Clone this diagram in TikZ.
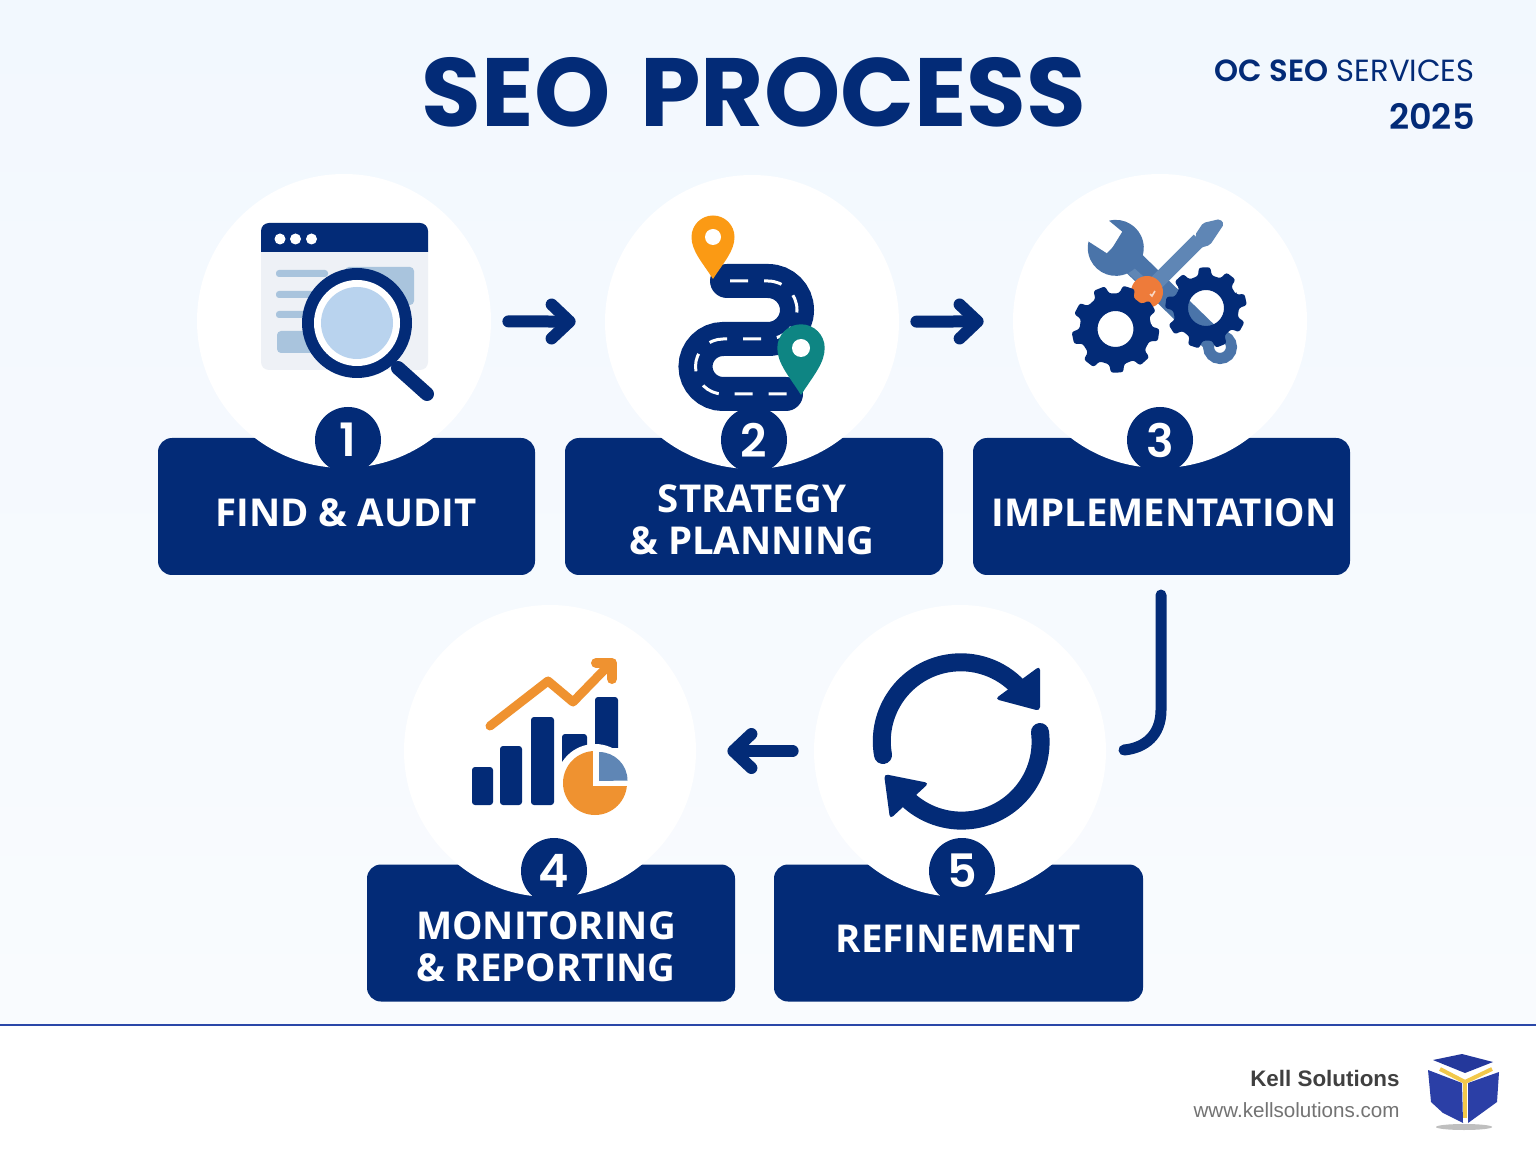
\documentclass[tikz,border=0pt]{standalone}
\usepackage{fontspec}
\usetikzlibrary{arrows.meta,calc}
\setmainfont{Open Sans}
\newfontfamily\popfont{Poppins}[BoldFont={Poppins SemiBold}]
\newfontfamily\popheavy{Poppins}
\newfontfamily\notefont{Liberation Sans}
\definecolor{navy}{HTML}{032B77}
\definecolor{bgtop}{HTML}{F2F8FE}
\definecolor{bgbot}{HTML}{F9FBFE}
\definecolor{pagegrey}{HTML}{EEF1F6}
\definecolor{paleblue}{HTML}{A9C4DD}
\definecolor{lensblue}{HTML}{B9D3EE}
\definecolor{pinorange}{HTML}{FB9A14}
\definecolor{pinteal}{HTML}{0E8583}
\definecolor{steel}{HTML}{4A74A9}
\definecolor{steellight}{HTML}{5F86B5}
\definecolor{hub}{HTML}{EE7B3A}
\definecolor{chartorange}{HTML}{EF9230}
\definecolor{rule}{HTML}{2A47A8}
\definecolor{logoblue}{HTML}{2B3FA6}
\definecolor{logotop}{HTML}{24389B}
\definecolor{logoyellow}{HTML}{F2C84B}
\tikzset{
  x=0.5pt,y=-0.5pt,
  whitedisc/.style={circle,fill=white,inner sep=0pt,minimum size=147pt},
  whitedisclow/.style={circle,fill=white,inner sep=0pt,minimum size=146pt},
  labelbox/.style={rectangle,fill=navy,rounded corners=7pt,inner sep=0pt,minimum height=68.5pt},
  labeltext/.style={text=white,font=\fontsize{19.2}{21}\selectfont\bfseries,align=center,inner sep=0pt},
  badge/.style={circle,fill=navy,text=white,inner sep=0pt,minimum size=33pt,font=\popfont\fontsize{23}{23}\selectfont\bfseries},
  flow/.style={draw=navy,line width=6pt,line cap=round,-{Straight Barb[length=9pt,width=17pt,round,line width=6pt]}},
}
\newcommand{\mappin}[6]{% cx, cy, r, tipy, hole, colour
  \fill[#6] (#1,#4) .. controls ({#1-0.5*#3},{#4-0.4*(#4-#2)}) and ({#1-#3},{#2+0.65*#3}) .. ({#1-#3},#2)
    arc[start angle=180,end angle=360,radius=#3]
    .. controls ({#1+#3},{#2+0.65*#3}) and ({#1+0.5*#3},{#4-0.4*(#4-#2)}) .. (#1,#4) -- cycle;
  \fill[white] (#1,#2) circle[radius=#5];
}
\newcommand{\gearicon}[4]{% cx, cy, rotation, tip radius
  \begin{scope}[shift={(#1,#2)}]
    \pgfmathsetmacro{\gearroot}{#4-8}
    \fill[navy,even odd rule,rounded corners=1.2pt] (#3-12:\gearroot)
      \foreach \i [evaluate=\i as \a using {\i*40+#3}] in {0,...,8}{
        -- (\a-12:\gearroot) -- (\a-8:#4) -- (\a+8:#4) -- (\a+12:\gearroot)
      } -- cycle
      (0,0) circle[radius=18];
  \end{scope}
}
\begin{document}
\begin{tikzpicture}
\useasboundingbox (0,0) rectangle (1536,1154);
% background
\shade[top color=bgtop,bottom color=bgbot] (0,0) rectangle (1536,1026);
\fill[white] (0,1026) rectangle (1536,1154);
\draw[rule,line width=1.3pt] (0,1025) -- (1536,1025);

% header
\node[text=navy,inner sep=0pt,font=\popheavy\fontsize{48.5}{51}\selectfont\bfseries] (title) at (754,92) {SEO\hspace{15pt}PROCESS};
\node[anchor=east,text=navy,inner sep=0pt,font=\popfont\fontsize{15.3}{16}\selectfont] (brand) at (1475,71) {\textbf{OC SEO} SERVICES};
\node[anchor=east,text=navy,inner sep=0pt,font=\popfont\fontsize{17.5}{18}\selectfont\bfseries] (year) at (1475,116) {2025};

% label boxes
\node[labelbox,minimum width=188.5pt] (box1) at (346.5,506.5) {};
\node[labelbox,minimum width=189pt] (box2) at (754,506.5) {};
\node[labelbox,minimum width=188.5pt] (box3) at (1161.5,506.5) {};
\node[labelbox,minimum width=184pt] (box4) at (551,933) {};
\node[labelbox,minimum width=184.5pt] (box5) at (958.5,933) {};

% discs
\node[whitedisc] (disc1) at (344,321) {};
\node[whitedisc] (disc2) at (752,322) {};
\node[whitedisc] (disc3) at (1160,321) {};
\node[whitedisclow] (disc4) at (550,751) {};
\node[whitedisclow] (disc5) at (960,751) {};

% badges
\node[badge] (num1) at (348,440) {1};
\node[badge] (num2) at (754,440) {2};
\node[badge] (num3) at (1160,440) {3};
\node[badge] (num4) at (554,871) {4};
\node[badge] (num5) at (962,871) {5};

% label texts
\node[labeltext] (text1) at (346,513) {FIND \& AUDIT};
\node[labeltext] (text2) at (752,520) {STRATEGY\\\& PLANNING};
\node[labeltext] (text3) at (1164,513) {IMPLEMENTATION};
\node[labeltext] (text4) at (546,947) {MONITORING\\\& REPORTING};
\node[labeltext] (text5) at (958,939) {REFINEMENT};

% flow connectors
\draw[flow,shorten <=8.5pt,shorten >=14.5pt] (disc1) -- (disc2);
\draw[flow,shorten <=8.5pt,shorten >=14.5pt] (disc2) -- (disc3);
\draw[flow,shorten <=10.5pt,shorten >=15.5pt] (disc5) -- (disc4);
\coordinate (bendstart) at (1161,595);
\coordinate (bendend) at (1124,750);
\draw[navy,line width=5.5pt,line cap=round] (bendstart) -- (1161,710) .. controls (1161,735) and (1145,748) .. (bendend);

% icon 1: browser and magnifier
\fill[pagegrey,rounded corners=4pt] (261,240) rectangle (428,370);
\fill[navy] (261,252) {[rounded corners=4pt] -- (261,223) -- (428,223)} -- (428,252) -- cycle;
\fill[white] (280,239) circle[radius=5.5] (295.5,239) circle[radius=5.5] (311.5,239) circle[radius=5.5];
\fill[paleblue,rounded corners=1.5pt] (276,270) rectangle (328,277);
\fill[paleblue,rounded corners=1.5pt] (276,291) rectangle (320,298);
\fill[paleblue,rounded corners=1.5pt] (276,311) rectangle (320,318);
\fill[paleblue,rounded corners=2pt] (277,331) rectangle (325,353);
\fill[paleblue,rounded corners=2pt] (345,267) rectangle (414,305);
\draw[navy,line width=7pt,line cap=round] (398,368) -- (427,394);
\fill[navy] (357,323) circle[radius=55];
\fill[white] (357,323) circle[radius=43];
\fill[lensblue] (357,323) circle[radius=36];

% icon 2: road and pins
\draw[navy,line width=17pt,line cap=round] (727,281) -- (768,281) arc[start angle=-90,end angle=90,radius=29] -- (723,339) arc[start angle=-90,end angle=-270,radius=27.5] -- (786,394);
\draw[white,line width=1.5pt,dash pattern=on 9pt off 8pt] (730,281) -- (768,281) arc[start angle=-90,end angle=90,radius=29] -- (723,339) arc[start angle=-90,end angle=-270,radius=27.5] -- (790,394);
\mappin{713}{237}{21.5}{279}{8}{pinorange}
\mappin{801}{348}{23.7}{395}{9}{pinteal}

% icon 3: tools and gears
\draw[steel,line width=12pt] (1115,245) -- (1220,347);
\draw[steellight,line width=4pt] (1125,265) -- (1150,288);
\fill[steel] (1109,220.7) arc[start angle=-104,end angle=193,radius=28] -- (1108.3,254.3) -- (1122.3,231.7) -- cycle;
\draw[steel,line width=5.5pt,fill=white] (1220,347) circle[radius=11.5];
\draw[steellight,line width=7.5pt] (1199,240) -- (1147,292);
\fill[steellight,rounded corners=1pt] (1195,235) -- (1203,223) -- (1220,219) -- (1224,224) -- (1210,245) -- (1200,248) -- cycle;
\fill[hub] (1147,292) circle[radius=16];
\draw[white,opacity=.7,line width=.8pt] (1150,294) -- (1152,296) -- (1155,291);
\gearicon{1115.5}{329}{8}{44}
\gearicon{1206}{308}{-12}{41}

% icon 4: chart
\fill[navy,rounded corners=1.5pt] (472,767) rectangle (493,805);
\fill[navy,rounded corners=1.5pt] (500,746) rectangle (522,805);
\fill[navy,rounded corners=1.5pt] (531,717) rectangle (554,805);
\fill[navy,rounded corners=1.5pt] (562,734) rectangle (587,770);
\fill[navy,rounded corners=1.5pt] (595,697) rectangle (618,760);
\fill[white] (595,783) circle[radius=39];
\fill[chartorange] (595,783) circle[radius=32];
\fill[white] (593,748) rectangle (630,786);
\fill[steellight] (599,781) -- (599,752) arc[start angle=-90,end angle=0,radius=28.5] -- cycle;
\draw[chartorange,line width=4.5pt,line cap=round,line join=round] (490,726) -- (548,681) -- (573,702) -- (609,665);
\draw[chartorange,line width=5pt,line cap=round,line join=round] (596,663) -- (612,663) -- (612,679);

% icon 5: refresh
\draw[navy,line width=9pt,line cap=round] (883,755) arc[start angle=170,end angle=318,radius=79];
\draw[navy,line width=9pt,line cap=round] (1040,732) arc[start angle=-7,end angle=135,radius=79];
\fill[navy,rounded corners=2pt] (1040,666) -- (1040,711) -- (995,699) -- cycle;
\fill[navy,rounded corners=2pt] (884,774) -- (929,783) -- (890,819) -- cycle;

% footer
\node[anchor=east,text=black!75,inner sep=0pt,font=\notefont\fontsize{11.2}{12}\selectfont\bfseries] (company) at (1400,1078) {Kell Solutions};
\node[anchor=east,text=black!55,inner sep=0pt,font=\notefont\fontsize{10.3}{11}\selectfont] (site) at (1400,1110) {www.kellsolutions.com};

% logo
\fill[black!25] (1464,1127) ellipse[x radius=28,y radius=3];
\fill[logotop] (1433,1060) -- (1462,1054) -- (1493,1062) -- (1465,1073) -- cycle;
\fill[logoblue] (1428,1070) -- (1462,1083) -- (1463,1123) -- (1443,1113) -- (1431,1102) -- cycle;
\fill[logoblue] (1499,1072) -- (1468,1083) -- (1468,1123) -- (1497,1102) -- cycle;
\draw[logoyellow,line width=2pt] (1440,1069) -- (1465,1082) -- (1492,1069);
\draw[logoyellow,line width=2pt] (1465,1082) -- (1465,1118);
\end{tikzpicture}
\end{document}
